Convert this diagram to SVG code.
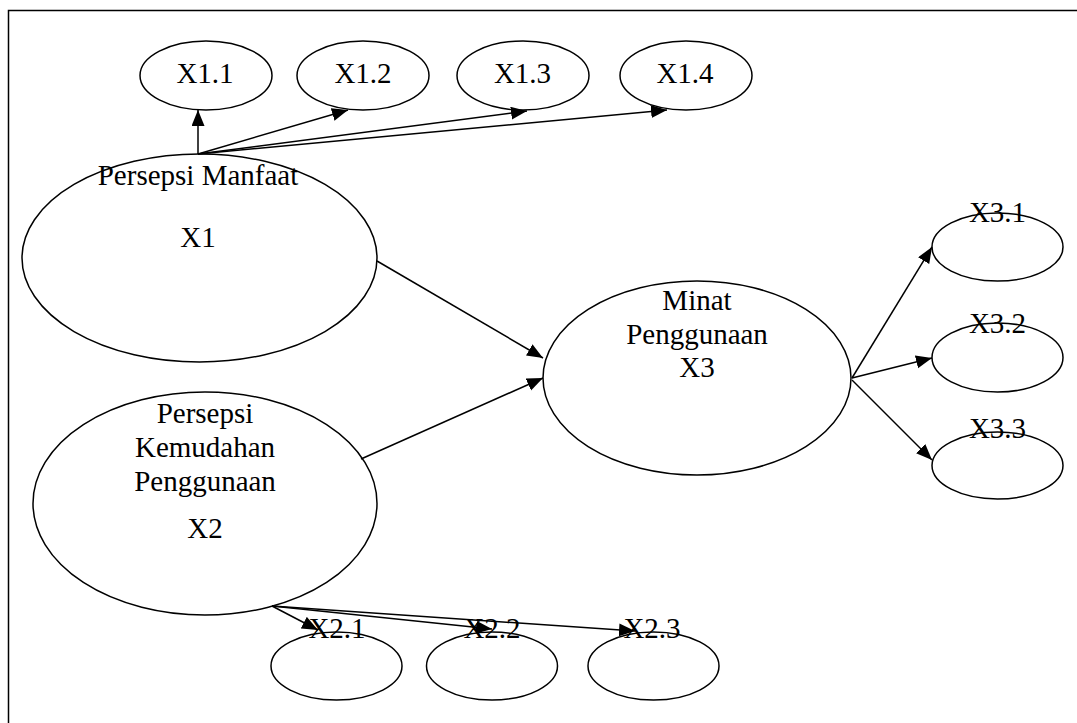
<svg xmlns="http://www.w3.org/2000/svg" width="1077" height="723" viewBox="0 0 1077 723">
<style>
  .n { fill: #fff; stroke: #000; stroke-width: 1.5; }
  .t { font-family: "Liberation Serif", "Times New Roman", serif; font-size: 29px; fill: #000; text-anchor: middle; }
  .c { stroke: #000; stroke-width: 1.5; fill: none; marker-end: url(#ah); }
  .frame { stroke: #000; stroke-width: 1.5; fill: none; }
</style>
<defs>
  <marker id="ah" markerUnits="userSpaceOnUse" markerWidth="17" markerHeight="14" refX="16" refY="6.5" orient="auto">
    <path d="M0,0 L16,6.5 L0,13 z" fill="#000"/>
  </marker>
</defs>
<rect width="1077" height="723" fill="#fff"/>
<path class="frame" d="M8.5,723 V10.5 H1077"/>

<g id="X1">
  <ellipse class="n" cx="199.5" cy="258" rx="177.5" ry="104"/>
  <text class="t" x="198" y="185">Persepsi Manfaat</text>
  <text class="t" x="198" y="247">X1</text>
</g>
<g id="X2">
  <ellipse class="n" cx="205" cy="503.5" rx="172" ry="111.5"/>
  <text class="t" x="205" y="423">Persepsi</text>
  <text class="t" x="205" y="457">Kemudahan</text>
  <text class="t" x="205" y="491">Penggunaan</text>
  <text class="t" x="205" y="538">X2</text>
</g>
<g id="X3">
  <ellipse class="n" cx="697" cy="378" rx="154" ry="97"/>
  <text class="t" x="697" y="310">Minat</text>
  <text class="t" x="697" y="344">Penggunaan</text>
  <text class="t" x="697" y="377">X3</text>
</g>

<g id="X1.1"><ellipse class="n" cx="206" cy="75.5" rx="66" ry="34.5"/><text class="t" x="205" y="83">X1.1</text></g>
<g id="X1.2"><ellipse class="n" cx="363" cy="75.5" rx="66" ry="34.5"/><text class="t" x="363" y="83">X1.2</text></g>
<g id="X1.3"><ellipse class="n" cx="523" cy="75.5" rx="66" ry="34.5"/><text class="t" x="522.5" y="83">X1.3</text></g>
<g id="X1.4"><ellipse class="n" cx="686" cy="75.5" rx="66" ry="34.5"/><text class="t" x="685" y="83">X1.4</text></g>

<g id="X2.1"><ellipse class="n" cx="336.5" cy="666" rx="65.5" ry="34"/><text class="t" x="337" y="638">X2.1</text></g>
<g id="X2.2"><ellipse class="n" cx="492" cy="666" rx="65.5" ry="34"/><text class="t" x="492" y="638">X2.2</text></g>
<g id="X2.3"><ellipse class="n" cx="653.5" cy="666" rx="65.5" ry="34"/><text class="t" x="652" y="638">X2.3</text></g>

<g id="X3.1"><ellipse class="n" cx="997.5" cy="247" rx="65.5" ry="34"/><text class="t" x="997.5" y="222">X3.1</text></g>
<g id="X3.2"><ellipse class="n" cx="997.5" cy="357.5" rx="65.5" ry="34.5"/><text class="t" x="997.5" y="333">X3.2</text></g>
<g id="X3.3"><ellipse class="n" cx="997.5" cy="465.5" rx="65.5" ry="33.5"/><text class="t" x="997.5" y="438">X3.3</text></g>

<g id="connectors">
  <line class="c" x1="198" y1="154" x2="198" y2="110"/>
  <line class="c" x1="198" y1="154" x2="348" y2="110"/>
  <line class="c" x1="198" y1="154" x2="527" y2="111"/>
  <line class="c" x1="198" y1="154" x2="667" y2="110"/>
  <line class="c" x1="377" y1="261" x2="543" y2="358"/>
  <line class="c" x1="361" y1="459" x2="543" y2="378"/>
  <line class="c" x1="852" y1="378" x2="932" y2="247"/>
  <line class="c" x1="852" y1="378" x2="932" y2="358"/>
  <line class="c" x1="852" y1="380" x2="932" y2="460"/>
  <line class="c" x1="272" y1="606" x2="318" y2="630"/>
  <line class="c" x1="272" y1="606" x2="492" y2="629"/>
  <line class="c" x1="272" y1="606" x2="635" y2="631"/>
</g>
</svg>
